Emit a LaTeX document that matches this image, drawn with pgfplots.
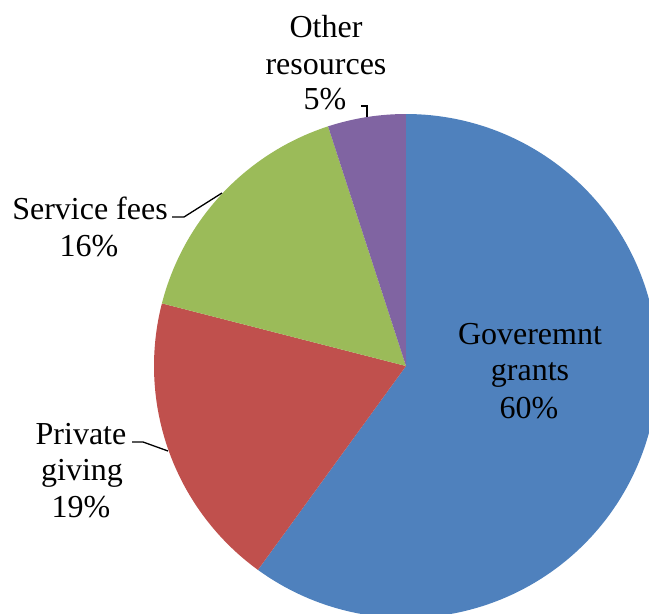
\documentclass[border=0pt]{standalone}
\usepackage{pgfplots}
\usepackage{pgfplotstable}
\pgfplotsset{compat=1.18}
\usepackage{fontspec}
\setmainfont{Liberation Serif}
\definecolor{cBlue}{HTML}{4F81BD}
\definecolor{cRed}{HTML}{C0504D}
\definecolor{cGreen}{HTML}{9BBB59}
\definecolor{cPurple}{HTML}{8064A2}
\pgfplotstableread{
value
60
19
16
5
}\shares
\tikzset{lbl/.style={font=\fontsize{32}{37}\selectfont, inner sep=0pt, anchor=base}}
\begin{document}%
\begin{tikzpicture}
\pgfplotstablegetelem{0}{value}\of\shares \pgfmathsetmacro\vA{\pgfplotsretval}
\pgfplotstablegetelem{1}{value}\of\shares \pgfmathsetmacro\vB{\pgfplotsretval}
\pgfplotstablegetelem{2}{value}\of\shares \pgfmathsetmacro\vC{\pgfplotsretval}
\pgfplotstablegetelem{3}{value}\of\shares \pgfmathsetmacro\vD{\pgfplotsretval}
\pgfmathsetmacro\tot{\vA+\vB+\vC+\vD}
\pgfmathsetmacro\aA{90}
\pgfmathsetmacro\aB{\aA-3.6*(\vA/\tot)*100}
\pgfmathsetmacro\aC{\aB-3.6*(\vB/\tot)*100}
\pgfmathsetmacro\aD{\aC-3.6*(\vC/\tot)*100}
\pgfmathsetmacro\aE{\aD-3.6*(\vD/\tot)*100}
\begin{axis}[
  scale only axis, width=649pt, height=614pt,
  xmin=0, xmax=649, ymin=0, ymax=614,
  hide axis,
]
\addplot[fill=cBlue, draw=none, domain=\aB:\aA, samples=150, variable=\t]
  ({406+252*cos(\t)},{248+252*sin(\t)}) -- (axis cs:406,248) -- cycle;
\addplot[fill=cRed, draw=none, domain=\aC:\aB, samples=80, variable=\t]
  ({406+252*cos(\t)},{248+252*sin(\t)}) -- (axis cs:406,248) -- cycle;
\addplot[fill=cGreen, draw=none, domain=\aD:\aC, samples=80, variable=\t]
  ({406+252*cos(\t)},{248+252*sin(\t)}) -- (axis cs:406,248) -- cycle;
\addplot[fill=cPurple, draw=none, domain=\aE:\aD, samples=40, variable=\t]
  ({406+252*cos(\t)},{248+252*sin(\t)}) -- (axis cs:406,248) -- cycle;
% leader lines
\draw[black, line width=1.3pt] (axis cs:361,508) -- (axis cs:367,508) -- (axis cs:367,497);
\draw[black, line width=1.3pt] (axis cs:172,397) -- (axis cs:184,397) -- (axis cs:222,421);
\draw[black, line width=1.3pt] (axis cs:132,172) -- (axis cs:143,172) -- (axis cs:168,163);
% labels
\node[lbl] at (axis cs:326,576) {Other};
\node[lbl] at (axis cs:326,539) {resources};
\node[lbl] at (axis cs:325,504) {5\%};
\node[lbl] at (axis cs:90,394) {Service fees};
\node[lbl] at (axis cs:89,357) {16\%};
\node[lbl] at (axis cs:81,169) {Private};
\node[lbl] at (axis cs:82,133) {giving};
\node[lbl] at (axis cs:81,96) {19\%};
\node[lbl] at (axis cs:530,269) {Goveremnt};
\node[lbl] at (axis cs:530,233) {grants};
\node[lbl] at (axis cs:529,195) {60\%};
\end{axis}
\pgfresetboundingbox
\path (current axis.south west) rectangle (current axis.north east);
\end{tikzpicture}%
\end{document}
